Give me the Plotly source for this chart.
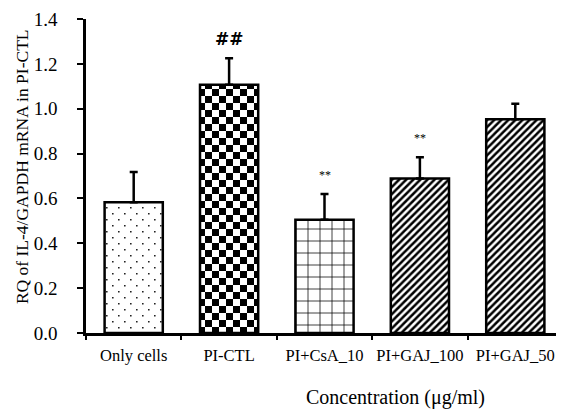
import plotly.graph_objects as go

categories = ["Only cells", "PI-CTL", "PI+CsA_10", "PI+GAJ_100", "PI+GAJ_50"]
values = [0.583, 1.107, 0.505, 0.689, 0.953]
errors = [0.135, 0.118, 0.115, 0.095, 0.069]
marks = ["", "##", "**", "**", ""]
y_ticks = [0.0, 0.2, 0.4, 0.6, 0.8, 1.0, 1.2, 1.4]

FONT = "Liberation Serif"

# page body has an 8px margin; figure is sized/offset to compensate
OFF = 8
W, H = 564 - OFF, 410 - OFF
L, T, B, R = 86 - OFF, 15 - OFF, 410 - 333, 1
PW, PH = W - L - R, H - T - B

patterns = [
    dict(path="M2,2h1.6v1.6h-1.6z M8,8h1.6v1.6h-1.6z", size=12, fgcolor="#222", bgcolor="white", fgopacity=1),
    dict(path="M0,0H7V7H0Z M7,7H14V14H7Z", size=14, fgcolor="black", bgcolor="white", fgopacity=1),
    dict(shape="+", size=12, solidity=0.12, fgcolor="black", bgcolor="white", fgopacity=1),
    dict(shape="/", size=5, solidity=0.5, fgcolor="black", bgcolor="white", fgopacity=1),
    dict(shape="/", size=5, solidity=0.5, fgcolor="black", bgcolor="white", fgopacity=1),
]

fig = go.Figure()
for c, v, e, p in zip(categories, values, errors, patterns):
    fig.add_trace(go.Bar(
        x=[c], y=[v],
        marker=dict(color="white", line=dict(color="black", width=2.5), pattern=p),
        error_y=dict(type="data", symmetric=False, array=[e], arrayminus=[0],
                     color="black", thickness=2.5, width=4),
        showlegend=False,
    ))

for c, v, e, m in zip(categories, values, errors, marks):
    if m:
        big = m.startswith("#")
        fig.add_annotation(x=c, y=v + e, xref="x", yref="y", text=m, showarrow=False,
                           yanchor="middle", yshift=19,
                           font=dict(family="DejaVu Sans" if big else FONT,
                                     size=17 if big else 12, color="black",
                                     weight="bold" if big else "normal"))

fig.add_annotation(text="RQ of IL-4/GAPDH mRNA in PI-CTL", textangle=-90,
                   xref="paper", yref="paper", x=(22 - 86) / PW, y=(333 - 165) / PH,
                   xanchor="center", yanchor="middle", showarrow=False,
                   font=dict(family=FONT, size=17.5, color="black"))
fig.add_annotation(text="Concentration (μg/ml)",
                   xref="paper", yref="paper", x=(395 - 86) / PW, y=(333 - 398) / PH,
                   xanchor="center", yanchor="middle", showarrow=False,
                   font=dict(family=FONT, size=20, color="black"))

fig.update_layout(
    width=W, height=H,
    margin=dict(l=L, r=R, t=T, b=B),
    paper_bgcolor="white", plot_bgcolor="white",
    bargap=0.39,
    xaxis=dict(showline=True, linecolor="black", linewidth=2.5, ticks="outside",
               tickson="boundaries", ticklen=4, tickwidth=2, tickcolor="black",
               showgrid=False, ticklabelstandoff=5, tickangle=0,
               ticklabeloverflow="allow",
               tickfont=dict(family=FONT, size=16.5, color="black")),
    yaxis=dict(range=[0, 1.4], showline=True, linecolor="black", linewidth=2.5,
               ticks="outside", ticklen=6, tickwidth=2, tickcolor="black",
               tickvals=y_ticks, ticktext=[f"{t:.1f}" for t in y_ticks],
               showgrid=False, zeroline=False, ticklabelstandoff=16,
               ticklabeloverflow="allow",
               tickfont=dict(family=FONT, size=19, color="black")),
)

fig.write_html("out.html")
